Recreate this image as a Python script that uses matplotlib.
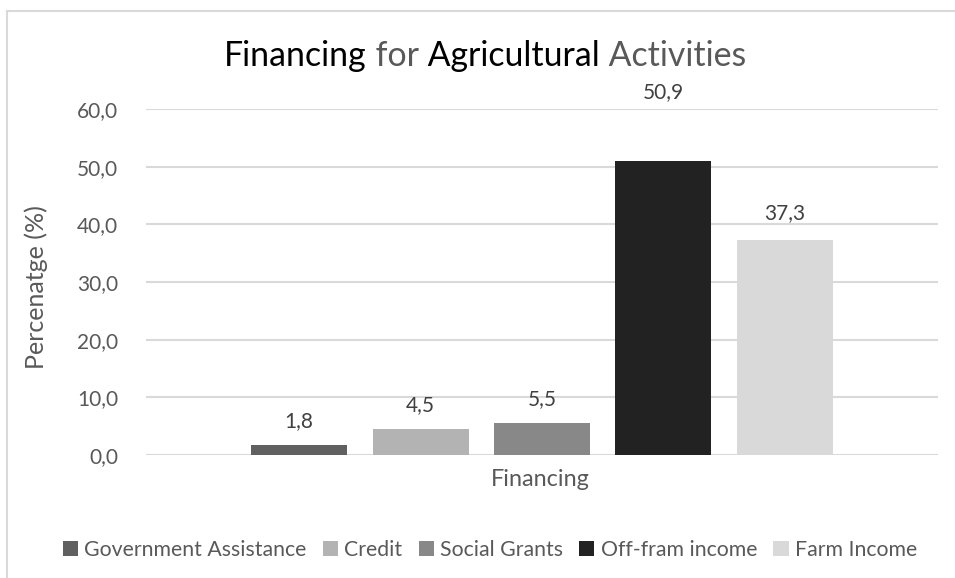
import matplotlib
matplotlib.use("Agg")
import matplotlib.pyplot as plt
from matplotlib.patches import Patch
from matplotlib.lines import Line2D

plt.rcParams['font.family'] = ['Lato', 'DejaVu Sans']

categories = ["Government Assistance", "Credit", "Social Grants", "Off-fram income", "Farm Income"]
values = [1.8, 4.5, 5.5, 50.9, 37.3]
colors = ["#606060", "#b3b3b3", "#888888", "#222222", "#d9d9d9"]
yticks = [0, 10, 20, 30, 40, 50, 60]
group_label = "Financing"
y_label = "Percenatge (%)"

# distance (px) of each value label centre above its bar top
label_gap_px = [24, 24, 24, 69, 27]

W, H = 955, 578
fig = plt.figure(figsize=(W / 100, H / 100), dpi=100)

# axes placement in pixels
left, right, top, bottom = 146, 938, 109, 455
ax = fig.add_axes([left / W, 1 - bottom / H, (right - left) / W, (bottom - top) / H])

positions = list(range(len(values)))
ax.bar(positions, values, width=0.79, color=colors, zorder=3)
for x, v, g in zip(positions, values, label_gap_px):
    ax.annotate(f"{v:.1f}".replace(".", ","), (x, v), xytext=(0, g * 0.72), textcoords="offset points",
                ha="center", va="center", fontsize=15, color="#404040")

ax.set_xlim(-1.26, 5.26)
ax.set_ylim(0, 60)
ax.set_yticks(yticks)
ax.set_yticklabels([f"{t:.1f}".replace(".", ",") for t in yticks], fontsize=15, color="#595959")
ax.set_xticks([])
ax.tick_params(axis="y", length=0, pad=20)
ax.grid(axis="y", color="#d9d9d9", linewidth=1.5, zorder=0)
for s in ax.spines.values():
    s.set_visible(False)
ax.set_axisbelow(True)

fig.text(540 / W, 1 - 480 / H, group_label, ha="center", va="center", fontsize=16.8, color="#595959")
fig.text(36 / W, 1 - 287 / H, y_label, ha="center", va="center", rotation=90, fontsize=18, color="#595959")

# title with alternating word colours
words = [("Financing", "#000000"), (" for", "#595959"), (" Agricultural", "#000000"), (" Activities", "#595959")]
renderer = fig.canvas.get_renderer()
pieces = []
total = 0
for w, c in words:
    t = fig.text(0, 0, w, fontsize=24.4, color=c, ha="left", va="center")
    wid = t.get_window_extent(renderer).width
    pieces.append((t, wid))
    total += wid
x0 = 485 - total / 2
for t, wid in pieces:
    t.set_position((x0 / W, 1 - 56 / H))
    x0 += wid

# outer border (top and left edges)
fig.add_artist(Line2D([7 / W, 1], [1 - 10.5 / H] * 2, color="#d9d9d9", linewidth=1.5, transform=fig.transFigure))
fig.add_artist(Line2D([7 / W] * 2, [0, 1 - 10.5 / H], color="#d9d9d9", linewidth=1.5, transform=fig.transFigure))

handles = [Patch(facecolor=c, edgecolor="none") for c in colors]
fig.legend(handles, categories, loc="center", bbox_to_anchor=(490 / W, 1 - 550 / H), ncol=5, frameon=False,
           fontsize=15.3, labelcolor="#595959", handlelength=0.72, handleheight=0.72, handletextpad=0.3,
           columnspacing=0.75)

fig.savefig("out.png", dpi=100)
